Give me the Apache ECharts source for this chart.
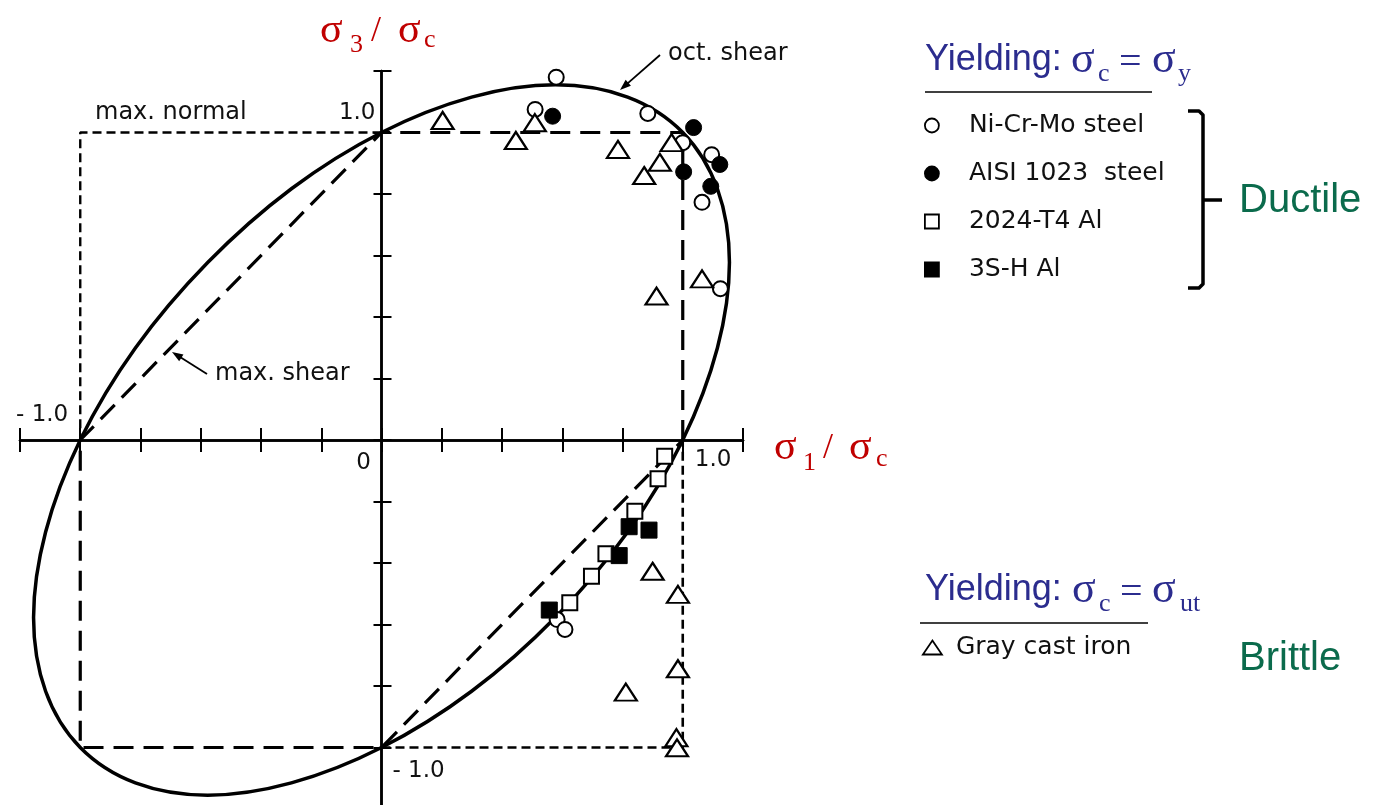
<!DOCTYPE html>
<html>
<head>
<meta charset="utf-8">
<script src="https://cdn.jsdelivr.net/npm/echarts@6/dist/echarts.min.js"></script>
<style>
  html, body { margin: 0; padding: 0; background: #fff; }
  #chart { width: 1381px; height: 805px; }
</style>
</head>
<body>
<div id="chart"></div>
<script>
// Biaxial test results, normalised: [σ1/σc, σ3/σc]
const niCrMoSteel = [[0.58, 1.18], [0.51, 1.075], [0.884, 1.062], [1.0, 0.967], [1.096, 0.928],
  [1.064, 0.773], [1.125, 0.492], [0.583, -0.584], [0.609, -0.616]];
const aisi1023Steel = [[0.568, 1.053], [1.036, 1.016], [1.003, 0.872], [1.123, 0.896], [1.093, 0.825], [1.203, 0.622]];
const al2024T4 = [[0.94, -0.053], [0.918, -0.126], [0.841, -0.232], [0.745, -0.37], [0.697, -0.443], [0.625, -0.529]];
const al3SH = [[0.822, -0.282], [0.888, -0.293], [0.789, -0.376], [0.557, -0.553]];
const grayCastIron = [[0.203, 1.039], [0.509, 1.032], [0.446, 0.974], [0.785, 0.945], [0.963, 0.967],
  [0.924, 0.903], [0.872, 0.86], [1.064, 0.524], [0.913, 0.468], [0.9, -0.427], [0.984, -0.502],
  [0.984, -0.744], [0.811, -0.82], [0.979, -0.968], [0.981, -1.001]];

// Failure envelopes
const octShear = [[-0.577, 0.577], [-0.817, 0.299], [-1, 0], [-1.115, -0.299], [-1.155, -0.577],
  [-1.115, -0.817], [-1, -1], [-0.817, -1.115], [-0.577, -1.155], [-0.299, -1.115], [0, -1],
  [0.299, -0.817], [0.577, -0.577], [0.817, -0.299], [1, 0], [1.115, 0.299], [1.155, 0.577],
  [1.115, 0.817], [1, 1], [0.817, 1.115], [0.577, 1.155], [0.299, 1.115], [0, 1], [-0.299, 0.817]];
const maxShear = [[1, 0], [1, 1], [0, 1], [-1, 0], [-1, -1], [0, -1], [1, 0]];
const maxNormalUpper = [[0, 1], [-1, 1], [-1, 0]];
const maxNormalLower = [[0, -1], [1, -1], [1, 0]];

// Axis range and the few labelled ticks
const axisMin = -1.2, axisMax = 1.2, tickStep = 0.2;
const xTickValues = [-1, 0, 1];
const xTickLabels = ['- 1.0', '0', '1.0'];
const yTickValues = [1, -1];
const yTickLabels = ['1.0', '- 1.0'];

const seriesNames = ['Ni-Cr-Mo steel', 'AISI 1023  steel', '2024-T4 Al', '3S-H Al', 'Gray cast iron'];

const chart = echarts.init(document.getElementById('chart'), null, { renderer: 'canvas' });

const INK = '#000';
const SANS = '"DejaVu Sans", sans-serif';

function valueAxis(extra) {
  return Object.assign({
    type: 'value', min: axisMin, max: axisMax, interval: tickStep,
    axisLabel: { show: false }, splitLine: { show: false },
    axisLine: { show: true, onZero: true, onZeroAxisIndex: 0, lineStyle: { color: INK, width: 2.5 } }
  }, extra);
}

const openStyle = { color: '#fff', borderColor: INK, borderWidth: 2, opacity: 1 };
const fillStyle = { color: INK, borderColor: INK, borderWidth: 1, opacity: 1 };
const legendText = { fontFamily: SANS, fontSize: 25, color: '#111' };

chart.setOption({
  animation: false,
  backgroundColor: '#fff',
  grid: { left: 20, top: 71, width: 723, height: 738, containLabel: false, outerBoundsMode: 'none' },
  xAxis: [
    valueAxis({ position: 'bottom', axisTick: { show: true, length: 12, lineStyle: { color: INK, width: 2 } } }),
    valueAxis({ position: 'top', axisTick: { show: true, length: 12, lineStyle: { color: INK, width: 2 } } })
  ],
  yAxis: [
    valueAxis({ position: 'left', axisTick: { show: true, length: 8, lineStyle: { color: INK, width: 2 } } }),
    valueAxis({ position: 'right', axisTick: { show: true, length: 10, lineStyle: { color: INK, width: 2 } } })
  ],
  legend: [
    {
      data: seriesNames.slice(0, 4), orient: 'vertical', left: 924, top: 113, padding: 0,
      itemWidth: 14, itemHeight: 14, itemGap: 23, selectedMode: false,
      itemStyle: { borderWidth: 1.8 },
      textStyle: Object.assign({ padding: [0, 0, 0, 25] }, legendText)
    },
    {
      data: [seriesNames[4]], orient: 'vertical', left: 922, top: 635, padding: 0,
      itemWidth: 19, itemHeight: 14, selectedMode: false,
      itemStyle: { borderWidth: 1.8 },
      textStyle: Object.assign({ padding: [0, 0, 0, 9] }, legendText)
    }
  ],
  series: [
    {
      name: 'max. normal', type: 'line', data: maxNormalUpper, showSymbol: false, silent: true,
      lineStyle: { color: INK, width: 2.4, type: [9, 5] }
    },
    {
      name: 'max. normal (lower)', type: 'line', data: maxNormalLower, showSymbol: false, silent: true,
      lineStyle: { color: INK, width: 2.6, type: [9, 5] }
    },
    {
      name: 'max. shear', type: 'line', data: maxShear, showSymbol: false, silent: true,
      lineStyle: { color: INK, width: 3.2, type: [20, 10] }
    },
    {
      name: 'oct. shear', type: 'custom', data: [[0, 0]], silent: true, clip: false,
      renderItem: function (params, api) {
        const pts = octShear.map(function (p) { return api.coord(p); });
        return {
          type: 'polygon',
          shape: { points: pts, smooth: 0.34 },
          style: { fill: 'none', stroke: INK, lineWidth: 3.5 }
        };
      }
    },
    { name: seriesNames[0], type: 'scatter', data: niCrMoSteel, symbol: 'circle', symbolSize: 15, itemStyle: openStyle, z: 5 },
    { name: seriesNames[1], type: 'scatter', data: aisi1023Steel, symbol: 'circle', symbolSize: 16, itemStyle: fillStyle, z: 5 },
    { name: seriesNames[2], type: 'scatter', data: al2024T4, symbol: 'rect', symbolSize: 15, itemStyle: openStyle, z: 5 },
    { name: seriesNames[3], type: 'scatter', data: al3SH, symbol: 'rect', symbolSize: 16, itemStyle: fillStyle, z: 5 },
    { name: seriesNames[4], type: 'scatter', data: grayCastIron, symbol: 'triangle', symbolSize: [22, 17],
      itemStyle: Object.assign({}, openStyle, { borderWidth: 2.2 }), z: 5 }
  ]
});

// ---- annotations ----
function text(str, x, y, size, family, color, align) {
  return {
    type: 'text', x: x, y: y, silent: true, z: 20,
    style: {
      text: str, font: size + 'px ' + family, fill: color,
      textAlign: align || 'left', align: align || 'left',
      textVerticalAlign: 'middle', verticalAlign: 'middle'
    }
  };
}
function seg(x1, y1, x2, y2, w) {
  return { type: 'line', silent: true, z: 20, shape: { x1: x1, y1: y1, x2: x2, y2: y2 }, style: { stroke: INK, lineWidth: w || 1.5 } };
}
function arrow(x1, y1, x2, y2) {
  const dx = x2 - x1, dy = y2 - y1, L = Math.sqrt(dx * dx + dy * dy);
  const ux = dx / L, uy = dy / L, nx = -uy, ny = ux, head = 11, half = 4;
  const bx = x2 - ux * head, by = y2 - uy * head;
  return [
    seg(x1, y1, bx + ux * 2, by + uy * 2, 1.8),
    { type: 'polygon', silent: true, z: 20,
      shape: { points: [[x2, y2], [bx + nx * half, by + ny * half], [bx - nx * half, by - ny * half]] },
      style: { fill: INK } }
  ];
}

const SERIF = '"Liberation Serif", "Times New Roman", serif';
const ARIAL = '"Liberation Sans", Arial, sans-serif';
const RED = '#C00000', BLUE = '#2B2C8E', GREEN = '#0B6B4C';

const g = [];

// tick labels placed next to their ticks
const xOffsets = [[-12, -25, 'right'], [-18, 23, 'center'], [12, 20, 'left']];
xTickValues.forEach(function (v, i) {
  const p = chart.convertToPixel({ xAxisIndex: 0, yAxisIndex: 0 }, [v, 0]);
  const o = xOffsets[i];
  g.push(text(xTickLabels[i], p[0] + o[0], p[1] + o[1], 23, SANS, '#111', o[2]));
});
const yOffsets = [[-6, -19, 'right'], [11, 24, 'left']];
yTickValues.forEach(function (v, i) {
  const p = chart.convertToPixel({ xAxisIndex: 0, yAxisIndex: 0 }, [0, v]);
  const o = yOffsets[i];
  g.push(text(yTickLabels[i], p[0] + o[0], p[1] + o[1], 23, SANS, '#111', o[2]));
});

// axis titles
g.push(text('σ', 320, 31, 42, SERIF, RED));
g.push(text('3', 350, 45, 26, SERIF, RED));
g.push(text('/', 371, 32, 36, SERIF, RED));
g.push(text('σ', 398, 31, 42, SERIF, RED));
g.push(text('c', 424, 40, 26, SERIF, RED));

g.push(text('σ', 774, 448, 42, SERIF, RED));
g.push(text('1', 803, 463, 26, SERIF, RED));
g.push(text('/', 823, 449, 36, SERIF, RED));
g.push(text('σ', 849, 448, 42, SERIF, RED));
g.push(text('c', 876, 459, 26, SERIF, RED));

// criterion labels
g.push(text('max. normal', 95, 113, 24, SANS, '#111'));
g.push(text('oct. shear', 668, 54, 24, SANS, '#111'));
g.push(text('max. shear', 215, 374, 24, SANS, '#111'));
Array.prototype.push.apply(g, arrow(660, 55, 620, 90));
Array.prototype.push.apply(g, arrow(207, 374, 172, 352));

// ductile group heading
g.push(text('Yielding:', 925, 60, 36, ARIAL, BLUE));
g.push(text('σ', 1071, 60, 44, SERIF, BLUE));
g.push(text('c', 1098, 74, 26, SERIF, BLUE));
g.push(text('=', 1119, 63, 40, SERIF, BLUE));
g.push(text('σ', 1152, 60, 44, SERIF, BLUE));
g.push(text('y', 1178, 74, 26, SERIF, BLUE));
g.push(seg(925, 92, 1152, 92, 1.6));

// bracket
g.push({ type: 'polyline', silent: true, z: 20,
  shape: { points: [[1188, 111], [1199, 111], [1203, 115], [1203, 284], [1199, 288], [1188, 288]] },
  style: { stroke: INK, lineWidth: 3.5, fill: null, lineJoin: 'round' } });
g.push(seg(1203, 200, 1222, 200, 3.5));
g.push(text('Ductile', 1239, 201, 40, ARIAL, GREEN));

// brittle group heading
g.push(text('Yielding:', 925, 590, 36, ARIAL, BLUE));
g.push(text('σ', 1072, 590, 44, SERIF, BLUE));
g.push(text('c', 1099, 604, 26, SERIF, BLUE));
g.push(text('=', 1120, 593, 40, SERIF, BLUE));
g.push(text('σ', 1152, 590, 44, SERIF, BLUE));
g.push(text('ut', 1180, 604, 26, SERIF, BLUE));
g.push(seg(920, 623, 1148, 623, 1.6));
g.push(text('Brittle', 1239, 659, 40, ARIAL, GREEN));

chart.setOption({ graphic: g });
</script>
</body>
</html>
